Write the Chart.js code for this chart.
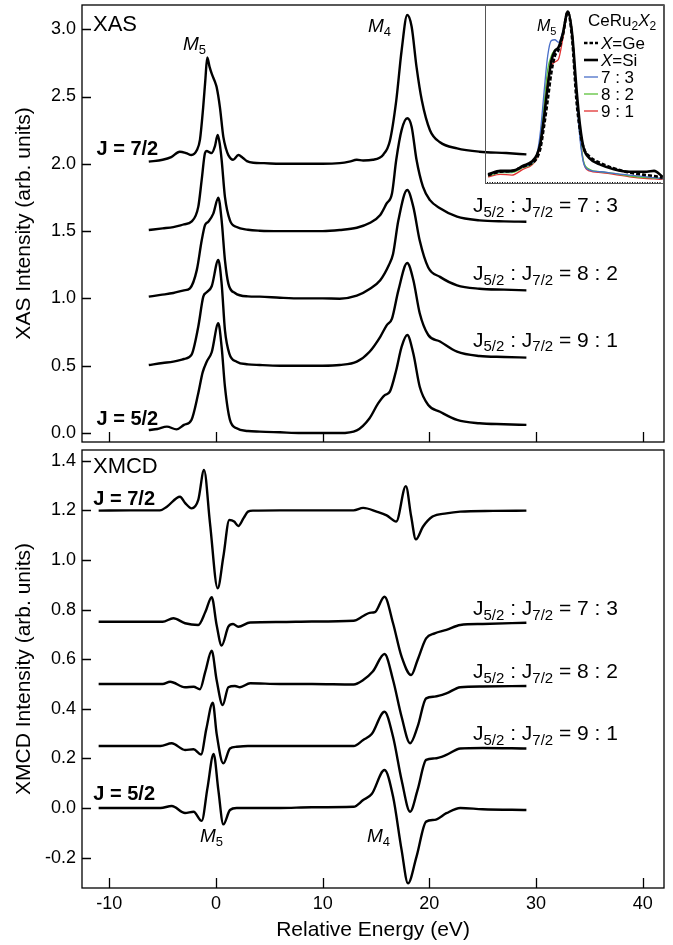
<!DOCTYPE html>
<html><head><meta charset="utf-8">
<script src="https://cdn.jsdelivr.net/npm/chart.js@4/dist/chart.umd.min.js"></script>
<style>
html,body{margin:0;padding:0;background:#fff;}
#wrap{position:relative;width:673px;height:945px;}
canvas{position:absolute;display:block;}
</style></head><body>
<div id="wrap">
<canvas id="top" width="673" height="446" style="left:0;top:0"></canvas>
<canvas id="bot" width="673" height="499" style="left:0;top:446px"></canvas>
<canvas id="ins" width="179" height="179" style="left:485px;top:5px"></canvas>
</div>
<script>
// ---------- tick labels ----------
const xTicks = [-10, 0, 10, 20, 30, 40];
const xasTicks = [0, 0.5, 1.0, 1.5, 2.0, 2.5, 3.0];
const xmcdTicks = [-0.2, 0, 0.2, 0.4, 0.6, 0.8, 1.0, 1.2, 1.4];

// ---------- XAS (offset spectra) ----------
const xasJ72X = [-6.3,-5,-4.2,-3.4,-2.8,-2.3,-1.8,-1.5,-1.2,-1.0,-0.82,-0.6,-0.4,-0.1,0.06,0.37,0.69,0.95,1.16,1.6,2.1,2.5,2.9,3.5,4.5,6,8,10,11.6,12.5,13.2,13.8,14.7,15.7,16.3,16.9,17.4,17.93,18.34,18.8,19.3,20.06,21.0,22.6,24.7,27.2,29.1];
const xasJ72Y = [2.016,2.03,2.05,2.09,2.08,2.065,2.10,2.18,2.42,2.62,2.79,2.72,2.67,2.61,2.57,2.42,2.20,2.11,2.065,2.03,2.065,2.045,2.02,2.008,2.005,2.0,2.0,2.0,2.005,2.016,2.03,2.025,2.03,2.07,2.17,2.47,2.84,3.106,3.02,2.72,2.47,2.25,2.16,2.115,2.09,2.08,2.07];

const xas73X = [-6.3,-5,-4.0,-3,-2.3,-1.66,-1.34,-1.03,-0.87,-0.6,-0.4,-0.1,0.16,0.35,0.53,0.84,1.31,1.94,3,4.1,6,8,10,11.6,13.2,14.4,15.4,16.0,16.5,16.9,17.4,17.93,18.34,18.8,19.4,20.06,21.0,22.6,24.7,27,29.1];
const xas73Y = [1.508,1.52,1.53,1.55,1.57,1.68,1.88,2.08,2.095,2.085,2.08,2.13,2.214,2.15,2.03,1.755,1.58,1.53,1.51,1.503,1.50,1.50,1.50,1.508,1.525,1.56,1.62,1.706,1.78,2.03,2.25,2.338,2.276,2.03,1.83,1.73,1.67,1.607,1.58,1.572,1.57];

const xas82X = [-6.3,-5.2,-4.0,-3,-2.44,-1.8,-1.34,-1.03,-0.72,-0.25,0.22,0.53,0.84,1.16,1.78,3,4.1,6,8,10,11.6,13.2,14.4,15.4,16.2,16.6,17.1,17.93,18.5,19.1,19.9,21.0,22.6,24.7,27,29.1];
const xas82Y = [1.013,1.026,1.04,1.06,1.075,1.21,1.43,1.545,1.57,1.63,1.748,1.58,1.285,1.11,1.04,1.015,1.013,1.005,1.0,1.0,0.998,1.02,1.07,1.135,1.246,1.33,1.58,1.805,1.68,1.43,1.23,1.16,1.097,1.072,1.065,1.06];

const xas91X = [-6.3,-5,-4.0,-3,-2.3,-1.66,-1.19,-0.87,-0.4,0.22,0.53,0.84,1.25,1.94,3,4.1,6,8,10,11.6,13.2,14.4,15.4,16.0,16.5,17.1,17.93,18.5,19.1,19.9,21.0,22.6,24.7,27,29.1];
const xas91Y = [0.505,0.52,0.53,0.55,0.58,0.79,1.013,1.045,1.09,1.285,1.11,0.765,0.59,0.53,0.51,0.505,0.5,0.5,0.5,0.505,0.53,0.604,0.715,0.80,0.85,1.06,1.263,1.137,0.89,0.728,0.68,0.604,0.572,0.565,0.56];

const xasJ52X = [-6.3,-5.5,-4.6,-3.7,-3,-2.3,-1.66,-1.25,-0.87,-0.4,0.22,0.53,0.84,1.31,1.94,3,4.1,6,8,10,11.6,13.2,14.4,15.2,15.8,16.3,16.9,17.4,17.93,18.5,19.1,19.9,21.0,22.6,24.7,27,29.1];
const xasJ52Y = [0.022,0.03,0.047,0.027,0.06,0.097,0.295,0.45,0.53,0.60,0.815,0.64,0.344,0.097,0.035,0.015,0.01,0.005,0.0,0.0,0.0,0.02,0.11,0.22,0.28,0.307,0.468,0.64,0.728,0.59,0.344,0.208,0.158,0.097,0.072,0.065,0.06];

// ---------- XMCD (offset spectra) ----------
const mcdJ72X = [-11,-8,-5.25,-4.6,-3.37,-2.9,-2.28,-1.66,-1.12,-0.56,0.16,0.69,1.25,1.7,2.09,2.6,3.0,3.5,6,9,12.9,13.8,15.06,16.0,16.9,17.8,18.3,18.74,19.4,20.3,21.6,22.9,26,29.1];
const mcdJ72Y = [1.199,1.2,1.2,1.215,1.255,1.23,1.208,1.242,1.363,1.148,0.886,1.013,1.161,1.155,1.137,1.17,1.195,1.199,1.2,1.2,1.2,1.21,1.195,1.18,1.155,1.298,1.175,1.083,1.134,1.175,1.188,1.195,1.198,1.199];

const mcd73X = [-11,-8,-5,-4.0,-2.9,-1.66,-1.0,-0.4,0.06,0.53,1.16,1.6,2.09,3.2,6,9,12.9,13.8,14.4,14.9,15.8,16.6,17.4,18.3,18.9,19.7,20.5,21.6,22.9,25,29.1];
const mcd73Y = [0.751,0.751,0.751,0.765,0.745,0.738,0.79,0.85,0.738,0.655,0.731,0.742,0.731,0.748,0.75,0.752,0.755,0.774,0.787,0.79,0.852,0.745,0.61,0.536,0.597,0.684,0.704,0.718,0.738,0.742,0.747];

const mcd82X = [-11,-8,-5,-4.3,-2.9,-2.1,-1.5,-1.0,-0.4,0.06,0.63,1.16,1.78,2.25,3.2,6,9,12.9,13.8,14.7,15.8,16.6,17.4,18.2,18.9,19.7,20.5,21.6,22.9,25,29.1];
const mcd82Y = [0.5,0.5,0.5,0.509,0.487,0.489,0.479,0.55,0.634,0.516,0.415,0.487,0.492,0.487,0.503,0.5,0.5,0.498,0.516,0.55,0.621,0.516,0.368,0.261,0.328,0.442,0.449,0.462,0.487,0.49,0.492];

const mcd91X = [-11,-8,-5.2,-4.15,-2.9,-2.1,-1.4,-0.9,-0.3,0.06,0.69,1.31,1.94,3,6,9,12.9,13.8,14.6,15.8,16.6,17.4,18.2,18.9,19.7,20.5,21.6,22.9,25,29.1];
const mcd91Y = [0.25,0.25,0.25,0.261,0.234,0.237,0.216,0.32,0.425,0.30,0.18,0.24,0.247,0.25,0.25,0.25,0.25,0.274,0.298,0.388,0.287,0.113,-0.015,0.073,0.194,0.2,0.214,0.24,0.242,0.24];

const mcdJ52X = [-11,-8,-5.2,-4.15,-2.9,-2.1,-1.34,-0.8,-0.22,0.22,0.69,1.31,1.94,3,6,9,12.9,13.8,14.6,15.8,16.6,17.4,18.0,18.8,19.7,20.5,21.6,22.9,25,29.1];
const mcdJ52Y = [0.0,0.0,0.0,0.008,-0.02,-0.015,-0.052,0.08,0.218,0.073,-0.066,-0.008,0.0,0.0,0.0,0.003,0.005,0.032,0.056,0.153,0.046,-0.169,-0.304,-0.196,-0.055,-0.048,-0.021,0.0,-0.005,-0.008];

// ---------- inset (normalized M5 edge) ----------
const insX   = [-5.35,-4.5,-3.7,-2.9,-2.3,-1.95,-1.7,-1.45,-1.2,-0.95,-0.7,-0.45,-0.15,0.2,0.5,0.8,1.05,1.3,1.7,2.5,3.4,4.5,5.7,6.2,6.8];
const insGe  = [0.04,0.06,0.065,0.09,0.11,0.14,0.2,0.33,0.48,0.64,0.74,0.775,0.86,1.0,0.84,0.48,0.3,0.2,0.15,0.11,0.08,0.055,0.04,0.035,0.025];
const insSi  = [0.045,0.065,0.065,0.095,0.12,0.16,0.23,0.38,0.56,0.71,0.77,0.79,0.87,1.0,0.87,0.55,0.33,0.2,0.14,0.1,0.075,0.06,0.06,0.065,0.03];
const ins73  = [0.04,0.06,0.06,0.09,0.11,0.16,0.30,0.53,0.74,0.83,0.835,0.82,0.88,1.0,0.87,0.50,0.25,0.11,0.07,0.06,0.05,0.04,0.03,0.025,0.02];
const ins82  = [0.035,0.055,0.055,0.085,0.105,0.15,0.26,0.46,0.66,0.74,0.775,0.79,0.86,1.0,0.88,0.52,0.27,0.12,0.075,0.06,0.05,0.035,0.025,0.022,0.02];
const ins91  = [0.03,0.045,0.04,0.075,0.1,0.14,0.23,0.42,0.6,0.68,0.705,0.72,0.84,1.0,0.88,0.52,0.27,0.115,0.065,0.055,0.045,0.03,0.02,0.018,0.015];

const FONT = '"Liberation Sans", Arial, Helvetica, sans-serif';
Chart.defaults.font.family = FONT;
Chart.defaults.color = '#000';

const pts = (xs, ys) => xs.map((x, i) => ({x, y: ys[i]}));
const line = (xs, ys, extra) => Object.assign({
  data: pts(xs, ys), borderColor: '#000', borderWidth: 2.4, pointRadius: 0,
  fill: false, cubicInterpolationMode: 'monotone', tension: 0.4
}, extra || {});

function drawRich(ctx, segs, px, py, size, bold) {
  let cx = px;
  ctx.textAlign = 'left'; ctx.textBaseline = 'alphabetic'; ctx.fillStyle = '#000';
  for (const s of segs) {
    const fs = s.sub ? Math.round(size * 0.7) : size;
    ctx.font = (s.i ? 'italic ' : '') + (bold ? 'bold ' : '') + fs + 'px ' + FONT;
    ctx.fillText(s.t, cx, py + (s.sub ? size * 0.22 : 0));
    cx += ctx.measureText(s.t).width;
  }
}

const framePlugin = {
  id: 'frame',
  afterDatasetsDraw(chart) {
    const o = chart.options.plugins.frame;
    if (!o) return;
    const {ctx, chartArea: a, scales: {x, y}} = chart;
    ctx.save();
    ctx.strokeStyle = '#000'; ctx.lineWidth = 1.3;
    ctx.strokeRect(a.left, a.top, a.width, a.height);
    ctx.beginPath();
    o.yt.forEach(v => { const p = Math.round(y.getPixelForValue(v)) + 0.5; ctx.moveTo(a.left, p); ctx.lineTo(a.left + 9, p); });
    o.xt.forEach(v => { const p = Math.round(x.getPixelForValue(v)) + 0.5; ctx.moveTo(p, a.bottom); ctx.lineTo(p, a.bottom - 10); });
    ctx.stroke();
    (o.notes || []).forEach(n => drawRich(ctx, n.segs, x.getPixelForValue(n.x), y.getPixelForValue(n.y), n.size, n.bold));
    ctx.restore();
  }
};

const ratio = (a, b) => [{t:'J'},{t:'5/2',sub:1},{t:' : J'},{t:'7/2',sub:1},{t:' = ' + a + ' : ' + b}];
const Mlab = n => [{t:'M', i:1},{t:String(n), sub:1}];

function zeroPad(s) { s.paddingTop = 0; s.paddingBottom = 0; s.paddingLeft = 0; s.paddingRight = 0; }

function mainOpts(ymin, ymax, yt, title, bottom, notes) {
  return {
    responsive: false, animation: false, devicePixelRatio: 1,
    layout: {padding: {top: bottom ? 4 : 5, right: 9, bottom: bottom ? 0 : 4, left: 0}},
    plugins: {legend: {display: false}, tooltip: {enabled: false},
      frame: {xt: xTicks, yt: yt, notes: notes}},
    scales: {
      x: {type: 'linear', min: -12.56, max: 42.0,
        grid: {display: false, drawTicks: false}, border: {display: false},
        ticks: {display: bottom, font: {size: 18}, padding: 5, color: '#000', maxRotation: 0, callback: v => String(v)},
        afterBuildTicks(s) { s.ticks = xTicks.map(v => ({value: v})); },
        title: {display: bottom, text: 'Relative Energy (eV)', font: {size: 21}, color: '#000', padding: {top: 0, bottom: 2}},
        afterFit(s) { s.height = bottom ? 57 : 0; zeroPad(s); }
      },
      y: {type: 'linear', min: ymin, max: ymax,
        grid: {display: false, drawTicks: false}, border: {display: false},
        ticks: {font: {size: 18}, padding: 6, color: '#000', callback: v => Number(v).toFixed(1)},
        afterBuildTicks(s) { s.ticks = yt.map(v => ({value: v})); },
        title: {display: true, text: title, font: {size: 21}, color: '#000', padding: {top: 12, bottom: 0}},
        afterFit(s) { s.width = 82; zeroPad(s); }
      }
    }
  };
}

new Chart(document.getElementById('top'), {
  type: 'line',
  data: {datasets: [
    line(xasJ72X, xasJ72Y), line(xas73X, xas73Y), line(xas82X, xas82Y),
    line(xas91X, xas91Y), line(xasJ52X, xasJ52Y)]},
  options: mainOpts(-0.0669, 3.18, xasTicks, 'XAS Intensity (arb. units)', false, [
    {x: -11.53, y: 2.987, size: 22, segs: [{t:'XAS'}]},
    {x: -3.09, y: 2.845, size: 19, segs: Mlab(5)},
    {x: 14.25, y: 2.98, size: 19, segs: Mlab(4)},
    {x: -11.2, y: 2.065, size: 20, bold: true, segs: [{t:'J = 7/2'}]},
    {x: -11.2, y: 0.059, size: 20, bold: true, segs: [{t:'J = 5/2'}]},
    {x: 24.09, y: 1.642, size: 21, segs: ratio(7, 3)},
    {x: 24.09, y: 1.137, size: 21, segs: ratio(8, 2)},
    {x: 24.09, y: 0.641, size: 21, segs: ratio(9, 1)}
  ]),
  plugins: [framePlugin]
});

new Chart(document.getElementById('bot'), {
  type: 'line',
  data: {datasets: [
    line(mcdJ72X, mcdJ72Y), line(mcd73X, mcd73Y), line(mcd82X, mcd82Y),
    line(mcd91X, mcd91Y), line(mcdJ52X, mcdJ52Y)]},
  options: mainOpts(-0.3226, 1.4435, xmcdTicks, 'XMCD Intensity (arb. units)', true, [
    {x: -11.53, y: 1.352, size: 22, segs: [{t:'XMCD'}]},
    {x: -11.5, y: 1.222, size: 20, bold: true, segs: [{t:'J = 7/2'}]},
    {x: -11.5, y: 0.032, size: 20, bold: true, segs: [{t:'J = 5/2'}]},
    {x: 24.09, y: 0.778, size: 21, segs: ratio(7, 3)},
    {x: 24.09, y: 0.523, size: 21, segs: ratio(8, 2)},
    {x: 24.09, y: 0.274, size: 21, segs: ratio(9, 1)},
    {x: -1.5, y: -0.137, size: 19, segs: Mlab(5)},
    {x: 14.15, y: -0.137, size: 19, segs: Mlab(4)}
  ]),
  plugins: [framePlugin]
});

// ---------- inset ----------
const insLegend = [
  {label: [{t:'X', i:1},{t:'=Ge'}], color: '#000', w: 2.6, dash: [3.5, 2]},
  {label: [{t:'X', i:1},{t:'=Si'}], color: '#000', w: 2.6, dash: []},
  {label: [{t:'7 : 3'}], color: '#4a6fc8', w: 1.3, dash: []},
  {label: [{t:'8 : 2'}], color: '#5cc23a', w: 1.3, dash: []},
  {label: [{t:'9 : 1'}], color: '#e03030', w: 1.3, dash: []}
];
const insetPlugin = {
  id: 'insetDeco',
  beforeDatasetsDraw(chart) {
    const {ctx, chartArea: a, scales: {y}} = chart;
    ctx.save();
    ctx.strokeStyle = '#000'; ctx.lineWidth = 1; ctx.setLineDash([1, 1.5]);
    const p = Math.round(y.getPixelForValue(0)) + 0.5;
    ctx.beginPath(); ctx.moveTo(a.left + 2, p); ctx.lineTo(a.right - 2, p); ctx.stroke();
    ctx.restore();
  },
  afterDatasetsDraw(chart) {
    const {ctx, width, height} = chart;
    ctx.save();
    ctx.strokeStyle = '#555'; ctx.lineWidth = 1; ctx.setLineDash([]);
    ctx.strokeRect(0.5, 0.5, width - 1, height - 1);
    drawRich(ctx, [{t:'CeRu'},{t:'2',sub:1},{t:'X',i:1},{t:'2',sub:1}], 103, 21, 17, false);
    drawRich(ctx, [{t:'M', i:1},{t:'5', sub:1}], 52, 26, 16, false);
    insLegend.forEach((e, i) => {
      const yy = 38 + i * 17;
      ctx.strokeStyle = e.color; ctx.lineWidth = e.w; ctx.setLineDash(e.dash);
      ctx.beginPath(); ctx.moveTo(99, yy); ctx.lineTo(113, yy); ctx.stroke();
      ctx.setLineDash([]);
      drawRich(ctx, e.label, 116, yy + 6, 17, false);
    });
    ctx.restore();
  }
};
const insLine = (ys, color, w, dash) => ({
  data: pts(insX, ys), borderColor: color, borderWidth: w, borderDash: dash || [],
  pointRadius: 0, fill: false, cubicInterpolationMode: 'monotone'
});
new Chart(document.getElementById('ins'), {
  type: 'line',
  data: {datasets: [
    insLine(insSi, '#000', 2.6),
    insLine(insGe, '#000', 2.6, [4, 2]),
    insLine(ins73, '#4a6fc8', 1.3),
    insLine(ins82, '#5cc23a', 1.3),
    insLine(ins91, '#e03030', 1.3)
  ]},
  options: {
    responsive: false, animation: false, devicePixelRatio: 1,
    layout: {padding: 0},
    plugins: {legend: {display: false}, tooltip: {enabled: false}},
    scales: {
      x: {type: 'linear', min: -5.56, max: 6.89, display: false},
      y: {type: 'linear', min: -0.012, max: 1.039, display: false}
    }
  },
  plugins: [insetPlugin]
});
</script>
</body></html>
